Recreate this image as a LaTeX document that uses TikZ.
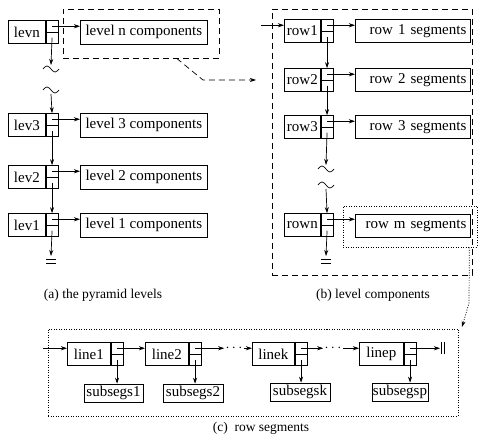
\documentclass[tikz,border=0pt]{standalone}
\usepackage{fontspec}
\setmainfont{Liberation Serif}
\usetikzlibrary{arrows.meta,calc}
\newcommand\mkcell[5]{%
  \node[namebox, minimum width=#5] (#1) at (#3,#4) {#2};
  \node[ptrbox] (#1p) at (#1.east) {};
  \draw (#1p.west) -- (#1p.east);
  \coordinate (#1t) at ($(#1p.center)+(0,-5.75)$);
  \coordinate (#1b) at ($(#1p.center)+(0,5.75)$);
}
\newcommand\mktilde[1]{\draw (#1) ++(-8,0) sin ++(4,-3) cos ++(4,3) sin ++(4,3) cos ++(4,-3);}
\newcommand\mkground[1]{\draw (#1) ++(-5,3) -- ++(10,0) ++(-10,4) -- ++(10,0);}
\begin{document}
\begin{tikzpicture}[x=1pt,y=-1pt, line width=0.7pt,
  every node/.style={font=\fontsize{15}{17}\selectfont},
  namebox/.style={draw, minimum height=23, inner sep=0pt, anchor=west},
  ptrbox/.style={draw, minimum width=12, minimum height=23, inner sep=0pt, anchor=west},
  compbox/.style={draw, minimum height=24, inner sep=0pt, anchor=west},
  segbox/.style={draw, minimum height=23, inner xsep=4pt, inner ysep=0pt, anchor=west, text width=107pt, align=right},
  subbox/.style={draw, minimum height=18, inner sep=0pt},
  arr/.style={-{Stealth[length=6pt,width=4pt]}},
  capstyle/.style={font=\fontsize{13.5}{16}\selectfont},
  bigdash/.style={draw, dash pattern=on 6pt off 4pt},
  bigdot/.style={draw, dash pattern=on 1pt off 1.5pt},
  dotsnode/.style={inner sep=1pt}
]
\useasboundingbox (0,0) rectangle (480,441);

% ---------- (a) pyramid levels ----------
\mkcell{levn}{levn}{8}{32}{37}
\node[compbox, minimum width=127] (cn) at (80,32) {level n components};
\node[bigdash, minimum width=156, minimum height=49] (dboxa) at (141,33.5) {};
\mkcell{lev3}{lev3}{8}{125}{37}
\node[compbox, minimum width=127] (c3) at (80,125) {level 3 components};
\mkcell{lev2}{lev2}{8}{177}{37}
\node[compbox, minimum width=127] (c2) at (80,177) {level 2 components};
\mkcell{lev1}{lev1}{8}{225}{37}
\node[compbox, minimum width=127] (c1) at (80,225) {level 1 components};

\draw[arr] (levnt) -- (levnt -| cn.west);
\draw[arr] (lev3t) -- (lev3t -| c3.west);
\draw[arr] (lev2t) -- (lev2t -| c2.west);
\draw[arr] (lev1t) -- (lev1t -| c1.west);

\coordinate (ea1) at (51,65);
\coordinate (ta1) at (51,69);
\coordinate (ta2) at (51,90);
\coordinate (sa2) at (51,94);
\draw[arr] (levnb) -- (ea1);
\mktilde{ta1}
\mktilde{ta2}
\draw[arr] (sa2) -- (lev3p.north);
\draw[arr] (lev3b) -- (lev2p.north);
\draw[arr] (lev2b) -- (lev1p.north);
\coordinate (ga) at (51,256);
\draw[arr] (lev1b) -- (ga);
\mkground{ga}

\coordinate (dc1) at ($(dboxa.south west)+(114,0)$);
\coordinate (dc2) at (203,80);
\coordinate (dc3) at (256,80);
\draw[arr, dash pattern=on 6pt off 4pt] (dc1) -- (dc2) -- (dc3);

\node[capstyle] (capa) at (103,295) {(a) the pyramid levels};

% ---------- (b) level components ----------
\node[bigdash, minimum width=200, minimum height=266] (bboxb) at (372,142) {};
\mkcell{row1}{row1}{284}{31}{36}
\node[segbox] (s1) at (355,31) {row 1 segments};
\mkcell{row2}{row2}{284}{80}{36}
\node[segbox] (s2) at (355,80) {row 2 segments};
\mkcell{row3}{row3}{284}{127}{36}
\node[segbox] (s3) at (355,127) {row 3 segments};
\mkcell{rown}{rown}{284}{225}{36}
\node[segbox] (sm) at (355,226) {row m segments};
\node[bigdot, minimum width=134, minimum height=41] (mbox) at (410,226.5) {};

\coordinate (inb) at (261,25.25);
\draw[arr] (inb) -- (inb -| row1.west);
\draw[arr] (row1t) -- (row1t -| s1.west);
\draw[arr] (row2t) -- (row2t -| s2.west);
\draw[arr] (row3t) -- (row3t -| s3.west);
\draw[arr] (rownt) -- (rownt -| sm.west);
\draw[arr] (row1b) -- (row2p.north);
\draw[arr] (row2b) -- (row3p.north);
\coordinate (eb1) at (326,165);
\coordinate (tb1) at (326,169);
\coordinate (tb2) at (326,185);
\coordinate (sb2) at (326,189);
\draw[arr] (row3b) -- (eb1);
\mktilde{tb1}
\mktilde{tb2}
\draw[arr] (sb2) -- (rownp.north);
\coordinate (gb) at (326,256);
\draw[arr] (rownb) -- (gb);
\mkground{gb}

\coordinate (mc1) at ($(mbox.south east)+(-8,0)$);
\coordinate (mc2) at (469,303);
\coordinate (mc3) at (462,327);
\draw[arr, dash pattern=on 1pt off 1.5pt] (mc1) -- (mc2) -- (mc3);

\node[capstyle] (capb) at (373,295) {(b) level components};

% ---------- (c) row segments ----------
\node[bigdot, minimum width=410, minimum height=87] (cbox) at (253,372.5) {};
\mkcell{line1}{line1}{67}{354}{43}
\mkcell{line2}{line2}{145}{354}{43}
\mkcell{linek}{linek}{252}{354}{42}
\mkcell{linep}{linep}{359}{354}{44}
\node[subbox, minimum width=59] (ss1) at (113.5,393) {subsegs1};
\node[subbox, minimum width=60] (ss2) at (193,393) {subsegs2};
\node[subbox, minimum width=60] (ssk) at (300,392) {subsegsk};
\node[subbox, minimum width=56] (ssp) at (400,392) {subsegsp};

\draw[arr] (line1b) -- (line1b |- ss1.north);
\draw[arr] (line2b) -- (line2b |- ss2.north);
\draw[arr] (linekb) -- (linekb |- ssk.north);
\draw[arr] (linepb) -- (linepb |- ssp.north);

\coordinate (inc) at (43,348.25);
\draw[arr] (inc) -- (inc -| line1.west);
\draw[arr] (line1t) -- (line1t -| line2.west);
\node[dotsnode] (d1) at (234,348.25) {$\cdots$};
\draw[arr] (line2t) -- (d1.west);
\draw[arr] (d1.east) -- (d1.east -| linek.west);
\node[dotsnode] (d2) at (333,348.25) {$\cdots$};
\draw[arr] (linekt) -- (d2.west);
\draw[arr] (d2.east) -- (d2.east -| linep.west);
\coordinate (endc) at (440,348.25);
\draw[arr] (linept) -- (endc);
\draw (endc) ++(1,-6) -- ++(0,12) ++(3,-12) -- ++(0,12);

\node[capstyle] (capc) at (261,428) {(c)\ \ row segments};
\end{tikzpicture}
\end{document}
